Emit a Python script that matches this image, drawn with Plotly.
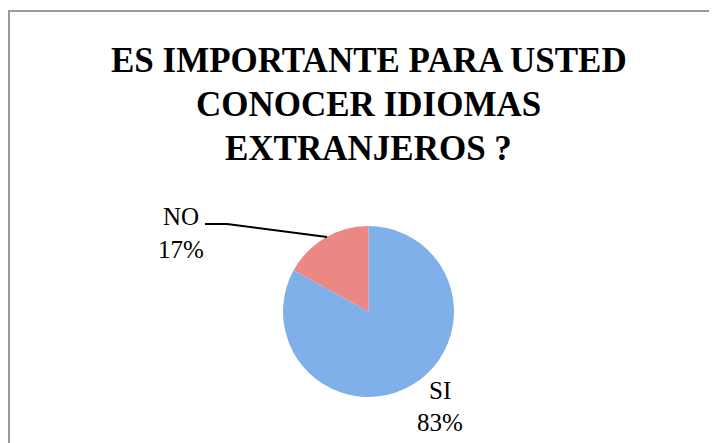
import plotly.graph_objects as go

# Data
labels = ["SI", "NO"]
values = [83, 17]
colors = ["#80b0ea", "#ec8883"]
title_lines = ["ES IMPORTANTE PARA USTED", "CONOCER IDIOMAS", "EXTRANJEROS ?"]

W, H = 717, 443
OFF = 8  # page body margin offset

def px(x):
    return (x - OFF) / W

def py(y):
    return 1 - (y - OFF) / H

fig = go.Figure()
fig.add_trace(go.Pie(
    labels=labels,
    values=values,
    marker=dict(colors=colors, line=dict(width=0)),
    sort=False,
    direction="clockwise",
    rotation=0,
    textinfo="none",
    hoverinfo="label+percent",
    domain=dict(x=[px(283), px(454)], y=[py(397), py(226)]),
    showlegend=False,
))

annotations = []
title_y = [60.5, 104.5, 148.5]
for line, ty in zip(title_lines, title_y):
    annotations.append(dict(
        text="<b>" + line + "</b>", x=px(368.5), y=py(ty), xref="paper", yref="paper",
        xanchor="center", yanchor="middle", showarrow=False,
        font=dict(family="Liberation Serif", size=35, color="#000000"),
    ))

total = sum(values)
pct = {l: f"{round(100 * v / total)}%" for l, v in zip(labels, values)}
label_pos = {"NO": (181, 216, 249), "SI": (440, 390.5, 422)}
for lab in labels:
    cx, y1, y2 = label_pos[lab]
    annotations.append(dict(
        text=lab, x=px(cx), y=py(y1), xref="paper", yref="paper",
        xanchor="center", yanchor="middle", showarrow=False,
        font=dict(family="Liberation Serif", size=25, color="#000000"),
    ))
    annotations.append(dict(
        text=pct[lab], x=px(cx), y=py(y2), xref="paper", yref="paper",
        xanchor="center", yanchor="middle", showarrow=False,
        font=dict(family="Liberation Serif", size=25, color="#000000"),
    ))

shapes = [
    dict(type="rect", xref="paper", yref="paper",
         x0=px(9), x1=1.05, y0=-0.05, y1=py(11),
         line=dict(color="#9a9a9a", width=2), fillcolor="rgba(0,0,0,0)"),
    dict(type="path", xref="paper", yref="paper",
         path=f"M {px(205)} {py(224)} L {px(227)} {py(224)} L {px(327)} {py(237)}",
         line=dict(color="#000000", width=2)),
]

fig.update_layout(
    width=W, height=H,
    margin=dict(l=0, r=0, t=0, b=0),
    paper_bgcolor="#ffffff",
    plot_bgcolor="#ffffff",
    annotations=annotations,
    shapes=shapes,
)

fig.write_html("out.html")
